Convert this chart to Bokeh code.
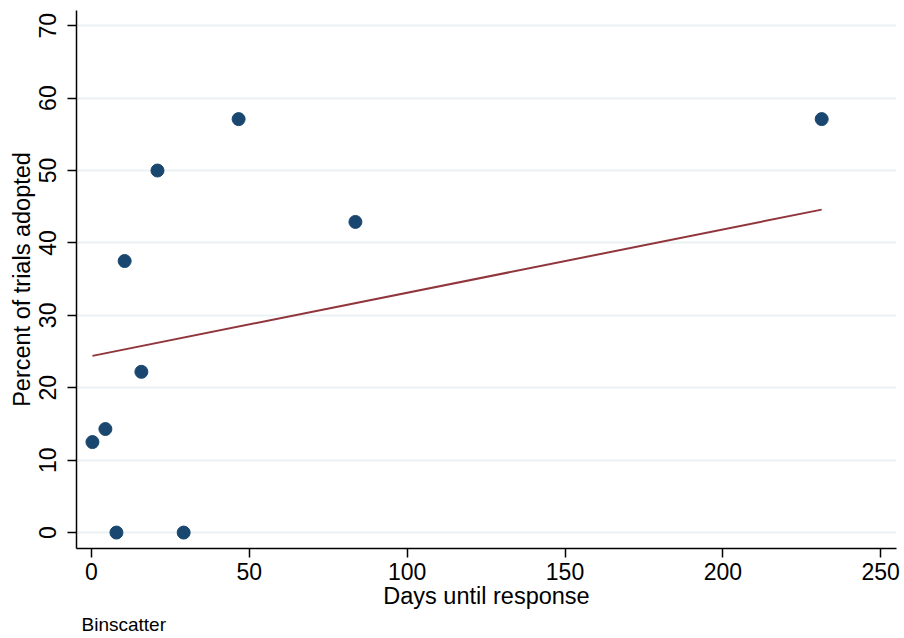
import math
from bokeh.plotting import figure
from bokeh.models import Range1d, FixedTicker, Title
from bokeh.embed import file_html
from bokeh.resources import INLINE

days = [0.3, 4.4, 7.9, 10.5, 15.8, 20.9, 29.2, 46.6, 83.6, 231.3]
pct_adopted = [12.5, 14.3, 0.0, 37.5, 22.2, 50.0, 0.0, 57.1, 42.9, 57.1]
fit_x = [0.3, 231.3]
fit_y = [24.4, 44.6]
x_ticks = [0, 50, 100, 150, 200, 250]
y_ticks = [0, 10, 20, 30, 40, 50, 60, 70]

FONT = "Liberation Sans"

p = figure(width=904, height=638, output_backend="svg", toolbar_location=None,
           x_range=Range1d(-4.75, 255), y_range=Range1d(-2.2, 72.1),
           min_border_left=76, min_border_top=10, min_border_right=8, min_border_bottom=90)
p.outline_line_color = None
p.background_fill_color = "white"
p.border_fill_color = "white"

p.line(fit_x, fit_y, line_color="#90353b", line_width=2)
p.scatter(days, pct_adopted, size=13, fill_color="#1a476f", line_color="#1a476f")

p.xaxis.ticker = FixedTicker(ticks=x_ticks)
p.yaxis.ticker = FixedTicker(ticks=y_ticks)
p.xaxis.axis_label = "Days until response"
p.yaxis.axis_label = "Percent of trials adopted"
for ax in (p.xaxis[0], p.yaxis[0]):
    ax.axis_line_color = "black"
    ax.axis_line_width = 1.5
    ax.major_tick_line_color = "black"
    ax.major_tick_line_width = 1.5
    ax.major_tick_in = 0
    ax.major_tick_out = 9
    ax.minor_tick_line_color = None
    ax.major_label_text_font = FONT
    ax.major_label_text_font_size = "23px"
    ax.major_label_text_color = "black"
    ax.axis_label_text_font = FONT
    ax.axis_label_text_font_size = "23.5px"
    ax.axis_label_text_font_style = "normal"
    ax.axis_label_text_color = "black"
p.yaxis.major_label_orientation = "vertical"
p.xaxis.axis_label_standoff = 0
p.yaxis.axis_label_standoff = 2
p.xaxis.major_label_standoff = 5
p.yaxis.major_label_standoff = 11

p.xgrid.grid_line_color = None
p.ygrid.grid_line_color = "#eaf2f3"
p.ygrid.grid_line_width = 2

p.add_layout(Title(text="Binscatter", align="left", text_font=FONT, text_font_size="19px",
                   text_font_style="normal", text_color="black", offset=5, standoff=0), "below")

open("out.html", "w").write(file_html(p, INLINE))
